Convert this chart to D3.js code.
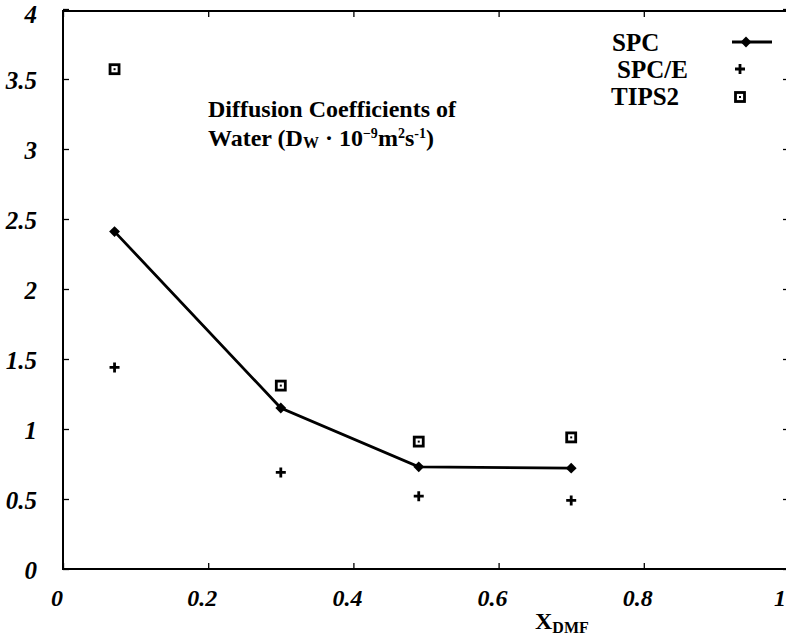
<!DOCTYPE html>
<html><head><meta charset="utf-8">
<script src="https://cdn.jsdelivr.net/npm/d3@7"></script>
<style>body{margin:0;background:#fff}svg{display:block}</style>
</head><body>
<script>
const xDMF = [0.071, 0.300, 0.490, 0.700];
const spc = [2.41, 1.15, 0.73, 0.72];
const spce = [1.44, 0.69, 0.52, 0.49];
const tips2 = [3.57, 1.31, 0.91, 0.94];
const xTicks = [0, 0.2, 0.4, 0.6, 0.8, 1];
const yTicks = [0, 0.5, 1, 1.5, 2, 2.5, 3, 3.5, 4];
const legendLabels = ["SPC", "SPC/E", "TIPS2"];

const W = 786, H = 638;
const svg = d3.select("body").append("svg").attr("width", W).attr("height", H);
const x = d3.scaleLinear().domain([0, 1]).range([63, 789]);
const y = d3.scaleLinear().domain([0, 4]).range([569, 9]);
const serif = "'Liberation Serif','Times New Roman',serif";

// frame
svg.append("rect").attr("x", x(0)).attr("y", y(4) + 2).attr("width", x(1) - x(0)).attr("height", y(0) - y(4) - 2)
  .attr("fill", "none").attr("stroke", "#000").attr("stroke-width", 2);

const axB = d3.axisBottom(x).tickValues(xTicks).tickSize(-6).tickFormat("");
const axT = d3.axisTop(x).tickValues(xTicks).tickSize(-6).tickFormat("");
const axL = d3.axisLeft(y).tickValues(yTicks).tickSize(-6).tickFormat("");
const axR = d3.axisRight(y).tickValues(yTicks).tickSize(-6).tickFormat("");
function styleAx(g){ g.select(".domain").remove(); g.selectAll("line").attr("stroke","#000").attr("stroke-width",1.3); }
svg.append("g").attr("transform", `translate(0,${y(0)})`).call(axB).call(styleAx);
svg.append("g").attr("transform", `translate(0,${y(4)+2})`).call(axT).call(styleAx);
svg.append("g").attr("transform", `translate(${x(0)},0)`).call(axL).call(styleAx);
svg.append("g").attr("transform", `translate(${x(1)},0)`).call(axR).call(styleAx);

// tick labels
svg.append("g").selectAll("text").data(yTicks).join("text")
  .attr("x", 37).attr("y", d => Math.max(y(d) + 10, 23))
  .attr("text-anchor", "end").attr("font-family", serif).attr("font-weight", "bold").attr("font-style", "italic")
  .attr("font-size", 25).text(d => d);
svg.append("g").selectAll("text").data(xTicks).join("text")
  .attr("x", d => d === 1 ? 786 : x(d) - 6).attr("y", 606)
  .attr("text-anchor", d => d === 0 ? "end" : (d === 1 ? "end" : "middle")).attr("dx", d => d === 0 ? 6 : 0)
  .attr("font-family", serif).attr("font-weight", "bold").attr("font-style", "italic")
  .attr("font-size", 24).text(d => d);

// x axis title
const xt = svg.append("text").attr("x", 535).attr("y", 629).attr("font-family", serif).attr("font-weight", "bold").attr("font-size", 24);
xt.append("tspan").text("X");
xt.append("tspan").attr("font-size", 16).attr("dy", 4).text("DMF");

// annotation
const ann = svg.append("g").attr("font-family", serif).attr("font-weight", "bold").attr("font-size", 24);
ann.append("text").attr("x", 208).attr("y", 117).text("Diffusion Coefficients of");
const t2 = ann.append("text").attr("x", 208).attr("y", 146);
t2.append("tspan").text("Water (D");
t2.append("tspan").attr("font-size", 16).attr("dy", 2).text("W");
t2.append("tspan").attr("dy", -2).text(" \u00B7 10");
t2.append("tspan").attr("font-size", 14).attr("dy", -8).text("\u22129");
t2.append("tspan").attr("dy", 8).text("m");
t2.append("tspan").attr("font-size", 14).attr("dy", -8).text("2");
t2.append("tspan").attr("dy", 8).text("s");
t2.append("tspan").attr("font-size", 14).attr("dy", -8).text("-1");
t2.append("tspan").attr("dy", 8).text(")");

// markers
const diamond = d3.symbol().type(d3.symbolDiamond2).size(75);
function plus(g, cx, cy){
  g.append("path").attr("d", `M${cx-5},${cy}H${cx+5}M${cx},${cy-5}V${cy+5}`).attr("stroke","#000").attr("stroke-width",2.8).attr("fill","none");
}
function square(g, cx, cy){
  g.append("rect").attr("x", cx-4.5).attr("y", cy-4.5).attr("width", 9).attr("height", 9).attr("fill","#fff").attr("stroke","#000").attr("stroke-width",2.8);
  g.append("rect").attr("x", cx-1).attr("y", cy-1).attr("width", 2).attr("height", 2).attr("fill","#000");
}

// SPC line
const line = d3.line().x((d,i) => x(xDMF[i])).y(d => y(d));
svg.append("path").datum(spc).attr("d", line).attr("fill","none").attr("stroke","#000").attr("stroke-width",2.8);
svg.append("g").selectAll("path").data(spc).join("path")
  .attr("d", diamond).attr("transform", (d,i) => `translate(${x(xDMF[i])},${y(d)})`).attr("fill","#000");

const gP = svg.append("g");
spce.forEach((d,i) => plus(gP, x(xDMF[i]), y(d)));
const gS = svg.append("g");
tips2.forEach((d,i) => square(gS, x(xDMF[i]), y(d)));

// legend
const lg = svg.append("g").attr("font-family", serif).attr("font-weight", "bold").attr("font-size", 25);
const lx = [612, 617, 611], ly = [51, 78, 105];
legendLabels.forEach((t,i) => lg.append("text").attr("x", lx[i]).attr("y", ly[i]).text(t));
lg.append("line").attr("x1", 732).attr("x2", 772).attr("y1", 42).attr("y2", 42).attr("stroke","#000").attr("stroke-width",2.8);
lg.append("path").attr("d", diamond).attr("transform", "translate(746,42)").attr("fill","#000");
plus(lg, 740, 69);
square(lg, 740, 97);
</script>
</body></html>
